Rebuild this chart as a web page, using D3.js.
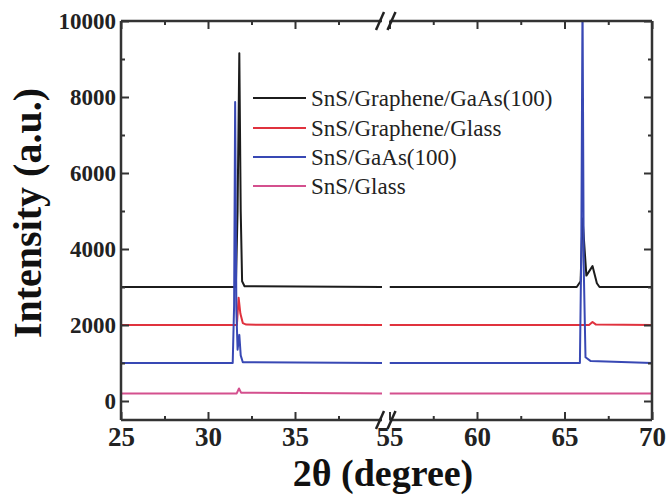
<!DOCTYPE html>
<html>
<head>
<meta charset="utf-8">
<script src="https://cdn.jsdelivr.net/npm/d3@7"></script>
<style>
  body { margin: 0; background: #fff; }
  svg text { font-family: "Liberation Serif", "Times New Roman", serif; }
</style>
</head>
<body>
<svg id="xrd" width="669" height="497"></svg>
<script>
// series names and colours
const seriesNames = ['SnS/Graphene/GaAs(100)', 'SnS/Graphene/Glass', 'SnS/GaAs(100)', 'SnS/Glass'];
const seriesColors = ['#1c1c1c', '#e0323e', '#3848b4', '#d4508e'];

// [2theta, intensity]
const blackPts = [[25, 3000], [31.6, 3000], [31.7, 5000], [31.8, 9150], [31.88, 5000], [31.96, 3150], [32.1, 3020], [40, 3000],
  [55, 3000], [65.7, 3000], [65.92, 3150], [66.03, 4800], [66.25, 3300], [66.6, 3550], [66.85, 3100], [67.0, 3000], [70, 3000]];
const redPts = [[25, 2000], [31.66, 2000], [31.76, 2720], [31.86, 2300], [32.0, 2050], [32.2, 2010], [40, 2000],
  [55, 2000], [66.4, 2000], [66.6, 2080], [66.8, 2010], [70, 2000]];
const bluePts = [[25, 1000], [31.42, 1000], [31.5, 2500], [31.56, 7870], [31.63, 2400], [31.7, 1350], [31.8, 1740], [31.88, 1200], [32.0, 1020], [40, 1000],
  [55, 1000], [65.88, 1000], [65.96, 4000], [66.03, 10600], [66.1, 3500], [66.2, 1150], [66.5, 1050], [70, 1000]];
const pinkPts = [[25, 200], [31.65, 200], [31.78, 330], [31.9, 220], [40, 200],
  [55, 200], [70, 200]];

const leftDomain = [25, 40];
const rightDomain = [55, 70];
const yMajor = [0, 2000, 4000, 6000, 8000, 10000];
const yMinor = [1000, 3000, 5000, 7000, 9000];
const xMajorLeft = [25, 30, 35];
const xMinorLeft = [27.5, 32.5, 37.5];
const xMajorRight = [55, 60, 65, 70];
const xMinorRight = [57.5, 62.5, 67.5];

const allSeries = [blackPts, redPts, bluePts, pinkPts];

const svg = d3.select('svg#xrd');
const pLeft = 121, pRight = 652, pTop = 21, pBottom = 420;
const breakL = 382, breakR = 389.5;

const y = d3.scaleLinear().domain([-500, 10000]).range([pBottom, pTop]);
const xL = d3.scaleLinear().domain(leftDomain).range([pLeft, breakL]);
const xR = d3.scaleLinear().domain(rightDomain).range([breakR, pRight]);

const defs = svg.append('defs');
defs.append('clipPath').attr('id', 'clipL').append('rect')
  .attr('x', pLeft).attr('y', pTop).attr('width', breakL - pLeft).attr('height', pBottom - pTop);
defs.append('clipPath').attr('id', 'clipR').append('rect')
  .attr('x', breakR).attr('y', pTop).attr('width', pRight - breakR).attr('height', pBottom - pTop);

// data lines
[[xL, leftDomain, 'clipL'], [xR, rightDomain, 'clipR']].forEach(([xs, dom, clip]) => {
  const g = svg.append('g').attr('clip-path', `url(#${clip})`);
  allSeries.forEach((pts, i) => {
    const seg = pts.filter(p => p[0] >= dom[0] && p[0] <= dom[1]);
    g.append('path')
      .datum(seg)
      .attr('fill', 'none')
      .attr('stroke', seriesColors[i])
      .attr('stroke-width', 2)
      .attr('stroke-linejoin', 'round')
      .attr('d', d3.line().x(d => xs(d[0])).y(d => y(d[1])));
  });
});

const axisColor = '#333';
const serif = '"Liberation Serif", "Times New Roman", serif';

// y axes (ticks inward)
const yLeft = svg.append('g').attr('transform', `translate(${pLeft},0)`)
  .call(d3.axisLeft(y).tickValues(yMajor).tickFormat(d3.format('d'))
    .tickSizeInner(-8).tickSizeOuter(0).tickPadding(5));
yLeft.selectAll('text').attr('font-size', 23).attr('font-weight', 'bold').attr('fill', '#222')
  .attr('font-family', serif);
svg.append('g').attr('transform', `translate(${pLeft},0)`)
  .call(d3.axisLeft(y).tickValues(yMinor).tickSizeInner(-4).tickSizeOuter(0).tickFormat(''));
svg.append('g').attr('transform', `translate(${pRight},0)`)
  .call(d3.axisRight(y).tickValues(yMajor).tickSizeInner(-8).tickSizeOuter(0).tickFormat(''));
svg.append('g').attr('transform', `translate(${pRight},0)`)
  .call(d3.axisRight(y).tickValues(yMinor).tickSizeInner(-4).tickSizeOuter(0).tickFormat(''));

// x axes bottom and top
[[xL, xMajorLeft, xMinorLeft], [xR, xMajorRight, xMinorRight]].forEach(([xs, maj, min]) => {
  const b = svg.append('g').attr('transform', `translate(0,${pBottom})`)
    .call(d3.axisBottom(xs).tickValues(maj).tickSizeInner(-8).tickSizeOuter(0).tickPadding(7));
  b.selectAll('text').attr('font-size', 27).attr('font-weight', 'bold').attr('fill', '#222')
    .attr('font-family', serif);
  svg.append('g').attr('transform', `translate(0,${pBottom})`)
    .call(d3.axisBottom(xs).tickValues(min).tickSizeInner(-4).tickSizeOuter(0).tickFormat(''));
  svg.append('g').attr('transform', `translate(0,${pTop})`)
    .call(d3.axisTop(xs).tickValues(maj).tickSizeInner(-8).tickSizeOuter(0).tickFormat(''));
  svg.append('g').attr('transform', `translate(0,${pTop})`)
    .call(d3.axisTop(xs).tickValues(min).tickSizeInner(-4).tickSizeOuter(0).tickFormat(''));
});
svg.selectAll('.domain').remove();
svg.selectAll('.tick line').attr('stroke', axisColor).attr('stroke-width', 2);

// frame with break
const frame = svg.append('g').attr('stroke', axisColor).attr('stroke-width', 2.5).attr('fill', 'none');
frame.append('line').attr('x1', pLeft).attr('x2', pLeft).attr('y1', pTop).attr('y2', pBottom);
frame.append('line').attr('x1', pRight).attr('x2', pRight).attr('y1', pTop).attr('y2', pBottom);
[pTop, pBottom].forEach(yy => {
  frame.append('line').attr('x1', pLeft).attr('x2', breakL).attr('y1', yy).attr('y2', yy);
  frame.append('line').attr('x1', breakR).attr('x2', pRight).attr('y1', yy).attr('y2', yy);
  [breakL - 2, breakR + 2].forEach(bx => {
    svg.append('line').attr('x1', bx - 4).attr('x2', bx + 4)
      .attr('y1', yy + 9).attr('y2', yy - 9)
      .attr('stroke', '#222').attr('stroke-width', 2.5);
  });
});

// legend
const legend = svg.append('g');
const legendY = [98, 128, 157, 186];
seriesNames.forEach((name, i) => {
  legend.append('line').attr('x1', 253).attr('x2', 306)
    .attr('y1', legendY[i]).attr('y2', legendY[i])
    .attr('stroke', seriesColors[i]).attr('stroke-width', 2);
  legend.append('text').attr('x', 311).attr('y', legendY[i] + 8)
    .attr('font-size', 23).attr('fill', '#222').text(name);
});

// axis titles
svg.append('text')
  .attr('transform', 'translate(41,213) rotate(-90)')
  .attr('text-anchor', 'middle')
  .attr('font-size', 40).attr('font-weight', 'bold').attr('fill', '#111')
  .text('Intensity (a.u.)');
svg.append('text')
  .attr('x', 383).attr('y', 486)
  .attr('text-anchor', 'middle')
  .attr('font-size', 38).attr('font-weight', 'bold').attr('fill', '#111')
  .text('2θ (degree)');
</script>
</body>
</html>
